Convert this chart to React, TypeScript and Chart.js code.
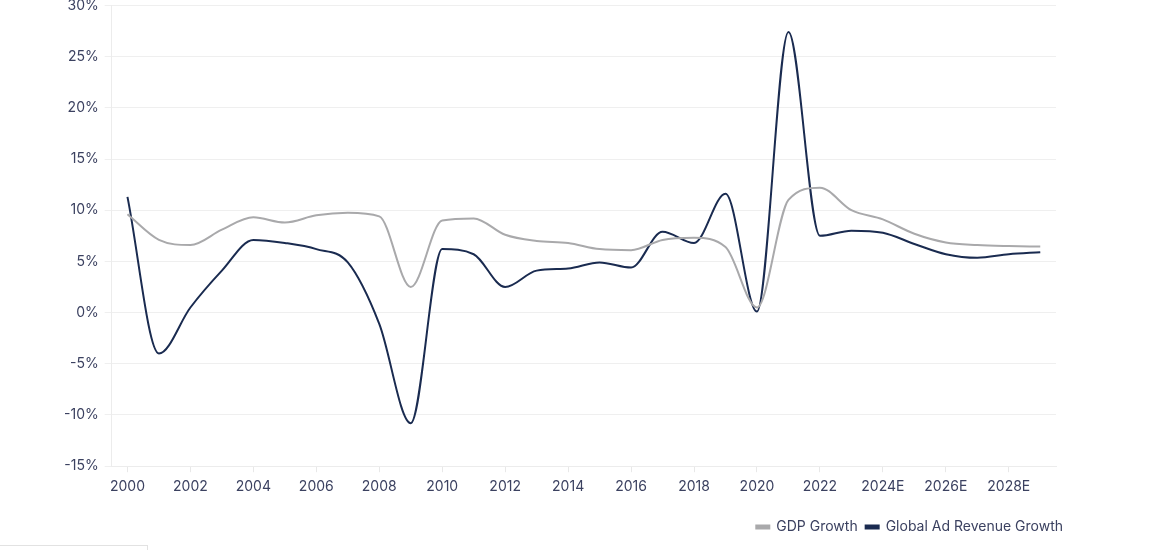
import React, { useEffect, useRef } from "react";
import { Chart, registerables } from "chart.js";

Chart.register(...registerables);

const years = [
  "2000", "2001", "2002", "2003", "2004", "2005", "2006", "2007", "2008", "2009",
  "2010", "2011", "2012", "2013", "2014", "2015", "2016", "2017", "2018", "2019",
  "2020", "2021", "2022", "2023", "2024E", "2025E", "2026E", "2027E", "2028E", "2029E",
];

const gdpGrowth = [
  9.6, 7.1, 6.6, 8.1, 9.3, 8.8, 9.5, 9.75, 9.4, 2.5,
  9.0, 9.2, 7.6, 7.0, 6.8, 6.2, 6.1, 7.1, 7.3, 6.4,
  0.5, 11.0, 12.2, 10.0, 9.1, 7.7, 6.85, 6.6, 6.5, 6.45,
];

const adRevenueGrowth = [
  11.3, -4.0, 0.5, 4.1, 7.1, 6.8, 6.2, 4.9, -1.1, -10.8,
  6.2, 5.7, 2.5, 4.1, 4.3, 4.9, 4.4, 7.9, 6.8, 11.6,
  0.1, 27.4, 7.5, 8.0, 7.8, 6.7, 5.7, 5.35, 5.7, 5.9,
];

const yTicksMin = -15;
const yTicksMax = 30;
const yTickStep = 5;

const TEXT = "#3b4160";
const FONT = "Inter, 'Noto Sans', sans-serif";

export default function App() {
  const ref = useRef<HTMLCanvasElement | null>(null);

  useEffect(() => {
    document.body.style.margin = "0";
    if (!ref.current) return;
    const chart = new Chart(ref.current, {
      type: "line",
      data: {
        labels: years,
        datasets: [
          {
            label: "GDP Growth",
            data: gdpGrowth,
            borderColor: "#a9a9ab",
            backgroundColor: "#a9a9ab",
            borderWidth: 2,
            pointRadius: 0,
            cubicInterpolationMode: "monotone",
            yAxisID: "y",
          },
          {
            label: "Global Ad Revenue Growth",
            data: adRevenueGrowth,
            borderColor: "#1a2b50",
            backgroundColor: "#1a2b50",
            borderWidth: 2,
            pointRadius: 0,
            cubicInterpolationMode: "monotone",
            yAxisID: "y",
          },
        ],
      },
      options: {
        animation: false,
        responsive: true,
        maintainAspectRatio: false,
        layout: { padding: { left: 58, right: 0, top: 0, bottom: 2 } },
        plugins: {
          tooltip: { enabled: false },
          legend: {
            position: "bottom",
            align: "end",
            labels: {
              boxWidth: 13,
              boxHeight: 3,
              padding: 8,
              color: TEXT,
              font: { family: FONT, size: 14 },
            },
          },
        },
        scales: {
          x: {
            offset: true,
            grid: {
              offset: false,
              drawOnChartArea: false,
              drawTicks: true,
              tickLength: 6,
              color: "#e8e8e8",
            },
            border: { color: "#ececec" },
            ticks: {
              autoSkip: true,
              maxRotation: 0,
              padding: 6,
              color: TEXT,
              font: { family: FONT, size: 14 },
            },
            title: {
              display: true,
              text: "",
              font: { size: 1, lineHeight: 1 },
              padding: { top: 0, bottom: 10 },
            },
          },
          y: {
            min: yTicksMin,
            max: yTicksMax,
            grid: { color: "#efefef", tickLength: 7 },
            border: { color: "#ececec" },
            ticks: {
              stepSize: yTickStep,
              padding: 6,
              color: TEXT,
              font: { family: FONT, size: 14 },
              callback: (v: any) => `${v}%`,
            },
          },
          yRight: {
            position: "right",
            display: true,
            grid: { display: false, drawTicks: false },
            border: { display: false },
            ticks: { display: false },
            afterFit: (scale: any) => {
              scale.width = 15;
            },
          },
        },
      },
    });
    return () => chart.destroy();
  }, []);

  return (
    <div style={{ position: "relative", width: 1176, height: 550, overflow: "hidden" }}>
      <div style={{ position: "absolute", left: 0, top: -9, width: 1071, height: 555 }}>
        <canvas ref={ref} />
      </div>
      <div
        style={{
          position: "absolute",
          left: 0,
          top: 545,
          width: 147,
          height: 10,
          borderTop: "1px solid #e2e2e2",
          borderRight: "1px solid #e2e2e2",
        }}
      />
    </div>
  );
}
